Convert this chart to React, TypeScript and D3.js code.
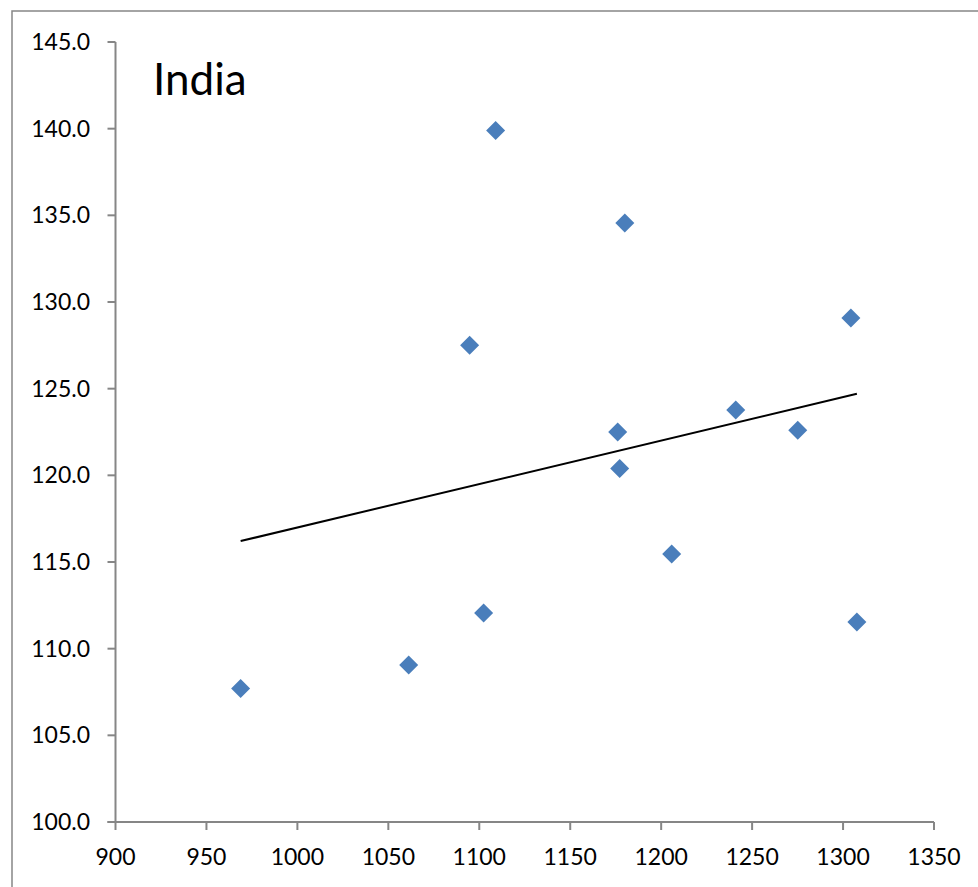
import React from "react";
import * as d3 from "d3";

const xValues = [968.8, 1061.2, 1102.4, 1094.7, 1109.0, 1180.0, 1176.1, 1177.2, 1205.8, 1241.0, 1275.1, 1304.3, 1307.6];
const yValues = [107.7, 109.06, 112.06, 127.5, 139.9, 134.56, 122.5, 120.4, 115.46, 123.77, 122.6, 129.08, 111.54];
const xTicks = [900, 950, 1000, 1050, 1100, 1150, 1200, 1250, 1300, 1350];
const yTicks = [100, 105, 110, 115, 120, 125, 130, 135, 140, 145];
const title = "India";

export default function App() {
  const W = 978, H = 887;
  const x = d3.scaleLinear().domain([900, 1350]).range([115.5, 934]);
  const y = d3.scaleLinear().domain([100, 145]).range([822, 42]);
  const n = xValues.length;
  const mx = d3.mean(xValues)!;
  const my = d3.mean(yValues)!;
  let sxy = 0, sxx = 0;
  for (let i = 0; i < n; i++) {
    sxy += (xValues[i] - mx) * (yValues[i] - my);
    sxx += (xValues[i] - mx) ** 2;
  }
  const slope = sxy / sxx;
  const icpt = my - slope * mx;
  const [x0, x1] = d3.extent(xValues) as [number, number];
  const trend = d3.line<number>().x(v => x(v)).y(v => y(icpt + slope * v))([x0, x1]);
  const diamond = d3.symbol().type(d3.symbolDiamond2).size(230)();
  const axisColor = "#868686";
  const font = "Lato, 'Open Sans', sans-serif";

  return (
    <svg width={W} height={H} style={{ position: "absolute", left: 0, top: 0, background: "#fff" }}>
      <rect x={12} y={11} width={1100} height={1000} fill="#fff" stroke={axisColor} strokeWidth={1.5} />
      <text x={153} y={95} fontFamily={font} fontSize={44} fill="#000">{title}</text>
      {/* y axis */}
      <line x1={x(900)} x2={x(900)} y1={y(145)} y2={y(100)} stroke={axisColor} strokeWidth={2} />
      {yTicks.map(t => (
        <g key={"y" + t}>
          <line x1={x(900) - 8} x2={x(900)} y1={y(t)} y2={y(t)} stroke={axisColor} strokeWidth={2} />
          <text x={90} y={y(t)} dy="0.35em" textAnchor="end" fontFamily={font} fontSize={23} fill="#000">
            {t.toFixed(1)}
          </text>
        </g>
      ))}
      {/* x axis */}
      <line x1={x(900) - 8} x2={x(1350)} y1={y(100)} y2={y(100)} stroke={axisColor} strokeWidth={2} />
      {xTicks.map(t => (
        <g key={"x" + t}>
          <line x1={x(t)} x2={x(t)} y1={y(100)} y2={y(100) + 8} stroke={axisColor} strokeWidth={2} />
          <text x={x(t)} y={865} textAnchor="middle" fontFamily={font} fontSize={23} fill="#000">
            {t}
          </text>
        </g>
      ))}
      <path d={trend!} fill="none" stroke="#000" strokeWidth={2} />
      {xValues.map((v, i) => (
        <path key={i} d={diamond!} transform={`translate(${x(v)},${y(yValues[i])})`} fill="#4A7EBB" />
      ))}
    </svg>
  );
}
